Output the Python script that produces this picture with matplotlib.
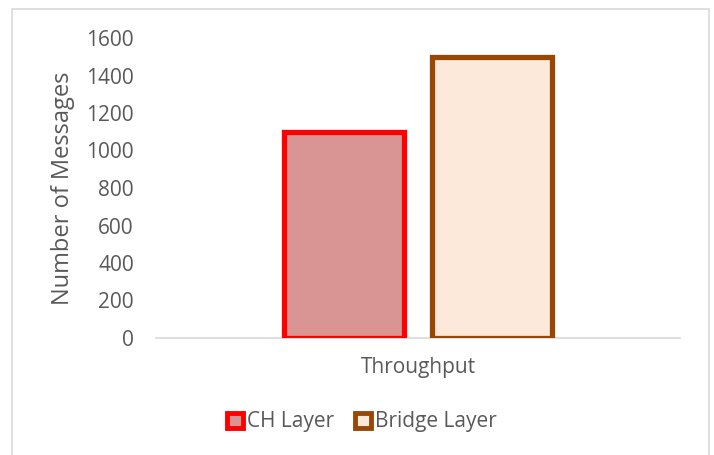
import matplotlib.pyplot as plt
from matplotlib.patches import Patch, Rectangle

categories = ["Throughput"]
series_names = ["CH Layer", "Bridge Layer"]
ch_values = [1100]
bridge_values = [1500]
y_ticks = [0, 200, 400, 600, 800, 1000, 1200, 1400, 1600]

text_color = "#595959"
ch_fill, ch_edge = "#D99594", "#FF0000"
br_fill, br_edge = "#FDE9D9", "#974806"

plt.rcParams["font.family"] = ["Open Sans", "DejaVu Sans"]

fig = plt.figure(figsize=(7.14, 4.55), dpi=100)
ax = fig.add_axes([156 / 714, 1 - 338 / 455, 524 / 714, 300 / 455])

# outer chart border
fig.patches.append(Rectangle((12 / 714, -0.05), 697 / 714, 1 - 9 / 455 + 0.05,
                             transform=fig.transFigure, fill=False,
                             edgecolor="#D9D9D9", linewidth=1.2))

x = range(len(categories))
w = 0.229
off = 0.142
ax.bar([i - off for i in x], ch_values, width=w, color=ch_fill,
       edgecolor=ch_edge, linewidth=3.8, zorder=3)
ax.bar([i + off for i in x], bridge_values, width=w, color=br_fill,
       edgecolor=br_edge, linewidth=3.8, zorder=3)

ax.set_xlim(-0.5, 0.5)
ax.set_ylim(0, 1600)
ax.set_yticks(y_ticks)
ax.set_xticks(list(x))
ax.set_xticklabels(categories)
ax.tick_params(axis="both", length=0, labelsize=15, colors=text_color)
ax.tick_params(axis="x", pad=14)
ax.tick_params(axis="y", pad=16)

for side in ["left", "right", "top"]:
    ax.spines[side].set_visible(False)
ax.spines["bottom"].set_color("#D9D9D9")
ax.spines["bottom"].set_linewidth(1.2)

ax.set_ylabel("Number of Messages", fontsize=17, color=text_color, labelpad=8)

handles = [
    Patch(facecolor=ch_fill, edgecolor=ch_edge, linewidth=3.5),
    Patch(facecolor=br_fill, edgecolor=br_edge, linewidth=3.5),
]
leg = fig.legend(handles, series_names, loc="center", bbox_to_anchor=(362 / 714, 1 - 422 / 455),
                 ncol=2, frameon=False, fontsize=15, handlelength=0.75, handleheight=0.75,
                 handletextpad=0.2, columnspacing=1.0)
for t in leg.get_texts():
    t.set_color(text_color)

fig.savefig("out.png", dpi=100)
plt.close()
